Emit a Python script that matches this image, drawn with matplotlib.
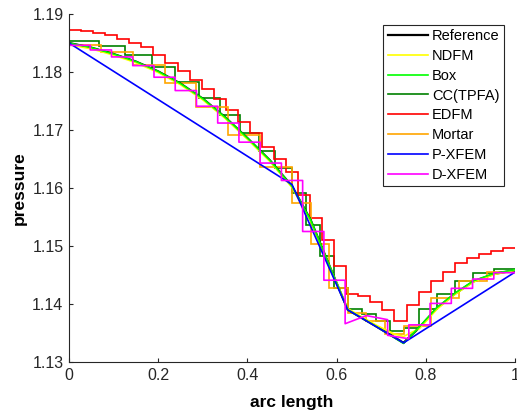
import numpy as np
import matplotlib
matplotlib.use("Agg")
import matplotlib.pyplot as plt

# ---- data ----
ref_x = [0, 0.05, 0.1, 0.15, 0.2, 0.25, 0.3, 0.35, 0.4, 0.45, 0.5, 0.5417, 0.5833,
         0.625, 0.6875, 0.75, 0.786, 0.825, 0.866, 0.907, 0.954, 1.0]
ref_y = [1.1850, 1.1842, 1.1831, 1.1818, 1.1801, 1.1780, 1.1754, 1.1722, 1.1686,
         1.1648, 1.1603, 1.1545, 1.1467, 1.1390, 1.1362, 1.1333, 1.1360, 1.1393,
         1.1418, 1.1439, 1.1452, 1.1458]

ndfm_x = [0, 0.05, 0.1, 0.15, 0.2, 0.25, 0.3, 0.35, 0.4, 0.45, 0.5, 0.5417, 0.5833,
          0.625, 0.6875, 0.73, 0.75, 0.786, 0.825, 0.866, 0.907, 0.954, 1.0]
ndfm_y = [1.1847, 1.1840, 1.1829, 1.1816, 1.1799, 1.1778, 1.1752, 1.1720, 1.1684,
          1.1646, 1.1601, 1.1543, 1.1466, 1.1392, 1.1364, 1.1348, 1.1344, 1.1358,
          1.1391, 1.1417, 1.1438, 1.1451, 1.1458]

box_x = ref_x
box_y = [1.1850, 1.1842, 1.1831, 1.1818, 1.1801, 1.1780, 1.1754, 1.1722, 1.1686,
         1.1648, 1.1603, 1.1545, 1.1467, 1.1390, 1.1362, 1.1332, 1.1361, 1.1394,
         1.1419, 1.1440, 1.1453, 1.1459]

cc_edges = [0, 0.0668, 0.1265, 0.1863, 0.2385, 0.2908, 0.3378, 0.384, 0.425, 0.4625,
            0.5, 0.53125, 0.5625, 0.59375, 0.625, 0.65625, 0.6875, 0.71875, 0.75,
            0.7857, 0.8246, 0.8656, 0.9067, 0.9537, 1.0]
cc_vals = [1.1853, 1.1844, 1.1829, 1.1809, 1.1783, 1.1756, 1.1726, 1.1694, 1.1663,
           1.1634, 1.1591, 1.1536, 1.1482, 1.1427, 1.1391, 1.1382, 1.1370, 1.1353,
           1.1358, 1.1391, 1.1418, 1.1440, 1.1453, 1.1460]

edfm_vals = [1.1873, 1.1871, 1.1868, 1.1864, 1.1857, 1.1850, 1.1843, 1.1830, 1.1816,
             1.1802, 1.1786, 1.1770, 1.1753, 1.1735, 1.1713, 1.1694, 1.1671, 1.1650,
             1.1627, 1.1588, 1.1548, 1.1510, 1.1465, 1.1418, 1.1413, 1.1404, 1.1390,
             1.1371, 1.1399, 1.1421, 1.1440, 1.1456, 1.1470, 1.1480, 1.1487, 1.1492,
             1.1496]
edfm_edges = np.linspace(0, 1, len(edfm_vals) + 1)

mortar_edges = [0, 1/14, 2/14, 3/14, 4/14, 5/14, 6/14, 0.5, 0.5417, 0.5833, 0.625,
                0.6667, 0.7083, 0.75, 0.8125, 0.875, 0.9375, 1.0]
mortar_vals = [1.1846, 1.1834, 1.1812, 1.1781, 1.1740, 1.1691, 1.1637, 1.1574, 1.1503,
               1.1427, 1.1385, 1.1370, 1.1349, 1.1362, 1.1410, 1.1440, 1.1455]

pxfem_x = [0, 0.5, 0.625, 0.75, 1.0]
pxfem_y = [1.1850, 1.1606, 1.1390, 1.1333, 1.1455]

# D-XFEM: element-wise linear, value at left and right end of each element
dxfem_edges = np.linspace(0, 1, 22)
dxfem_left = [1.1846, 1.1838, 1.1826, 1.1811, 1.1791, 1.1768, 1.1741, 1.1712, 1.1679,
              1.1643, 1.1613, 1.1525, 1.1441, 1.1366, 1.1380, 1.1346, 1.1364, 1.1401,
              1.1427, 1.1443, 1.1454]
dxfem_right = [1.1846, 1.1838, 1.1826, 1.1811, 1.1791, 1.1768, 1.1741, 1.1712, 1.1679,
               1.1643, 1.1613, 1.1525, 1.1441, 1.1380, 1.1373, 1.1340, 1.1364, 1.1401,
               1.1427, 1.1443, 1.1454]

labels = ["Reference", "NDFM", "Box", "CC(TPFA)", "EDFM", "Mortar", "P-XFEM", "D-XFEM"]
colors = ["black", "#ffff00", "#00ff00", "#008000", "#ff0000", "#ffa500", "#0000ff", "#ff00ff"]

plt.rcParams["font.family"] = ["Liberation Sans", "DejaVu Sans"]

fig = plt.figure(figsize=(5.17, 4.18), dpi=100)
ax = fig.add_axes([0.1335, 0.134, 0.8627, 0.8325])

lw = 1.2
ax.plot(ref_x, ref_y, color=colors[0], lw=1.6, label=labels[0])
ax.plot(ndfm_x, ndfm_y, color=colors[1], lw=lw, label=labels[1])
ax.plot(box_x, box_y, color=colors[2], lw=lw, label=labels[2])
ax.stairs(cc_vals, cc_edges, baseline=None, color=colors[3], lw=lw, label=labels[3])
ax.stairs(edfm_vals, edfm_edges, baseline=None, color=colors[4], lw=lw, label=labels[4])
ax.stairs(mortar_vals, mortar_edges, baseline=None, color=colors[5], lw=lw, label=labels[5])
ax.plot(pxfem_x, pxfem_y, color=colors[6], lw=lw, label=labels[6])

# build the D-XFEM polyline from element end values
dx, dy = [], []
for i in range(len(dxfem_left)):
    dx += [dxfem_edges[i], dxfem_edges[i + 1]]
    dy += [dxfem_left[i], dxfem_right[i]]
ax.plot(dx, dy, color=colors[7], lw=lw, label=labels[7])

ax.set_xlim(0, 1)
ax.set_ylim(1.13, 1.19)
ax.set_xticks([0, 0.2, 0.4, 0.6, 0.8, 1])
ax.set_xticklabels(["0", "0.2", "0.4", "0.6", "0.8", "1"])
ax.set_yticks([1.13, 1.14, 1.15, 1.16, 1.17, 1.18, 1.19])
ax.set_yticklabels(["1.13", "1.14", "1.15", "1.16", "1.17", "1.18", "1.19"])
ax.spines["top"].set_visible(False)
ax.spines["right"].set_visible(False)
for s in ["left", "bottom"]:
    ax.spines[s].set_color("#262626")
    ax.spines[s].set_linewidth(0.8)
ax.tick_params(direction="in", length=3, width=0.8, colors="#262626",
               labelsize=11.5, labelcolor="#262626", pad=4)
ax.set_xlabel("arc length", fontsize=12.5, fontweight="bold", labelpad=9)
ax.set_ylabel("pressure", fontsize=12.5, fontweight="bold", labelpad=4)

leg = ax.legend(loc="upper right", bbox_to_anchor=(504 / 517, 1 - 24.7 / 418),
                bbox_transform=fig.transFigure, fontsize=10.5, frameon=True,
                fancybox=False, framealpha=1, edgecolor="#262626",
                handlelength=2.8, handletextpad=0.25, labelspacing=0.4,
                borderpad=0.3, borderaxespad=0)
leg.get_frame().set_linewidth(0.8)

fig.savefig("out.png", dpi=100)
